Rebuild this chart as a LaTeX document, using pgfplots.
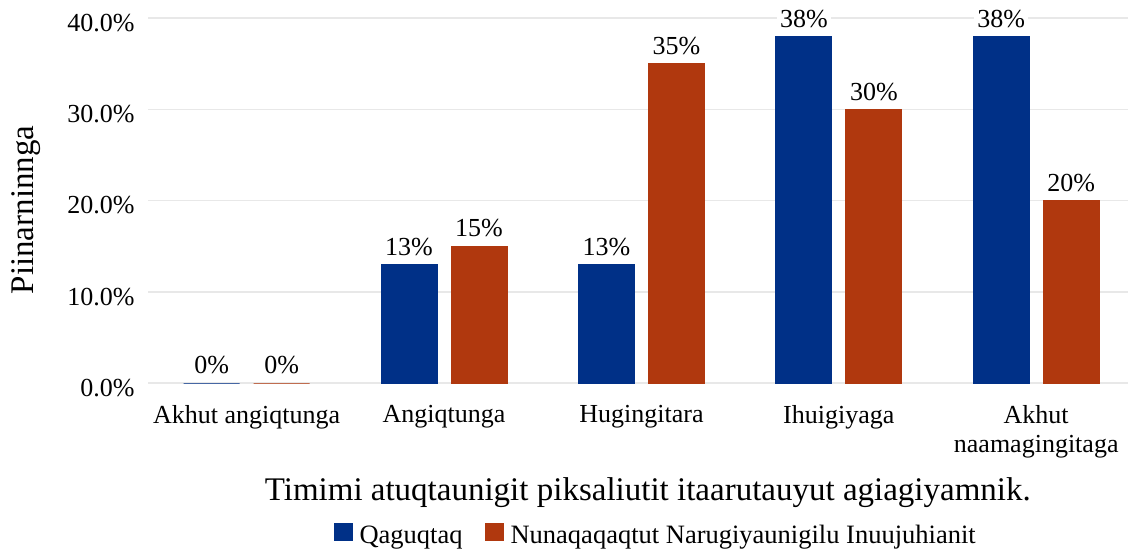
\documentclass[border=0pt]{standalone}
\usepackage{fontspec}
\setmainfont{Liberation Serif}
\usepackage{pgfplots}
\pgfplotsset{compat=1.18}
\definecolor{cblue}{RGB}{0,48,135}
\definecolor{cred}{RGB}{176,56,14}
\definecolor{cgrid}{RGB}{232,232,232}
\begin{document}
\begin{tikzpicture}
\useasboundingbox (-148pt,-167pt) rectangle (980pt,383pt);
\begin{axis}[
  at={(0pt,0pt)}, anchor=south west,
  scale only axis, width=980pt, height=365pt,
  xmin=0.5, xmax=5.465, ymin=0, ymax=40,
  ybar=14pt, bar width=56pt,
  axis line style={draw=none},
  major tick length=0pt,
  ytick={0,10,20,30,40},
  yticklabels={0.0\%,10.0\%,20.0\%,30.0\%,40.0\%},
  ymajorgrids, grid style={cgrid, line width=1.5pt},
  xtick={1,2,3,4,5},
  xticklabels={Akhut angiqtunga, Angiqtunga, Hugingitara, Ihuigiyaga, {Akhut\\naamagingitaga}},
  xticklabel style={align=center, font=\fontsize{26}{29}\selectfont, yshift=-19pt},
  yticklabel style={font=\fontsize{26}{29}\selectfont, xshift=-10pt, yshift=-5pt},
  /pgf/number format/assume math mode=true,
  nodes near coords={\pgfmathprintnumber{\pgfplotspointmeta}\%},
  nodes near coords style={font=\fontsize{26}{29}\selectfont, fill=white, text=black, yshift=5pt},
  xlabel={Timimi atuqtaunigit piksaliutit itaarutauyut agiagiyamnik.},
  xlabel style={at={(axis description cs:0.510,-0.301)}, anchor=center, font=\fontsize{33}{38}\selectfont},
  ylabel={Piinarninnga},
  ylabel style={at={(axis description cs:-0.1245,0.474)}, anchor=center, font=\fontsize{33}{38}\selectfont},
  legend style={at={(axis description cs:0.518,-0.416)}, anchor=center, draw=none, fill=none,
    legend columns=-1, font=\fontsize{26.5}{30}\selectfont,
    /tikz/every odd column/.append style={column sep=5pt},
    /tikz/every even column/.append style={column sep=20pt}},
  legend image code/.code={\fill[#1] (0pt,-5pt) rectangle (18pt,12pt);},
]
\addplot[fill=cblue, draw=cblue, line width=1pt] coordinates {(1,0) (2,13) (3,13) (4,38) (5,38)};
\addplot[fill=cred, draw=cred, line width=1pt] coordinates {(1,0) (2,15) (3,35) (4,30) (5,20)};
\legend{Qaguqtaq, Nunaqaqaqtut Narugiyaunigilu Inuujuhianit}
\end{axis}
\end{tikzpicture}
\end{document}
